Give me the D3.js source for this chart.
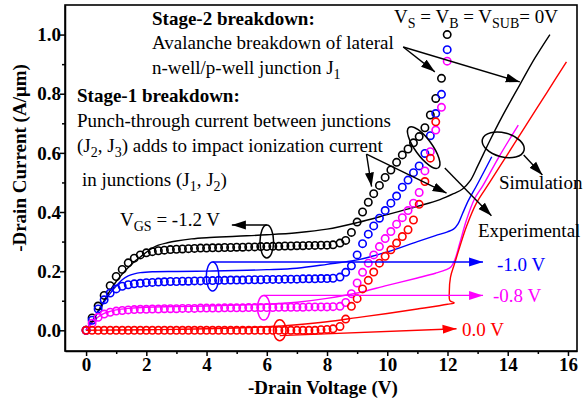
<!DOCTYPE html>
<html>
<head>
<meta charset="utf-8">
<script src="https://cdn.jsdelivr.net/npm/d3@7"></script>
<style>
  body { margin: 0; background: #fff; }
  svg { display: block; font-family: "Liberation Serif", "Times New Roman", serif; }
</style>
</head>
<body>
<svg id="chart" width="583" height="403"></svg>
<script>
// ---- axis ticks ----
const xTicks = [0, 2, 4, 6, 8, 10, 12, 14, 16];
const xTickLabels = ["0", "2", "4", "6", "8", "10", "12", "14", "16"];
const xMinorTicks = [1, 3, 5, 7, 9, 11, 13, 15];
const yTicks = [0.0, 0.2, 0.4, 0.6, 0.8, 1.0];
const yTickLabels = ["0.0", "0.2", "0.4", "0.6", "0.8", "1.0"];
const yMinorTicks = [0.1, 0.3, 0.5, 0.7, 0.9];

// ---- measured data: low-voltage sweep (shared drain voltages) ----
const measV = [0, 0.2, 0.4, 0.6, 0.8, 1.0, 1.2, 1.4, 1.6, 1.8, 2.0, 2.2, 2.4, 2.6, 2.8, 3.0, 3.2, 3.4, 3.6, 3.8,
  4.0, 4.2, 4.4, 4.6, 4.8, 5.0, 5.2, 5.4, 5.6, 5.8, 6.0, 6.2, 6.4, 6.6, 6.8, 7.0, 7.2, 7.4, 7.6, 7.8, 8.0, 8.2];
const measI_m12 = [0, 0.042, 0.082, 0.118, 0.151, 0.182, 0.206, 0.228, 0.244, 0.255, 0.262, 0.266, 0.269, 0.271, 0.273,
  0.274, 0.275, 0.276, 0.277, 0.278, 0.278, 0.279, 0.279, 0.280, 0.280, 0.281, 0.281, 0.282, 0.282, 0.283, 0.283,
  0.284, 0.284, 0.285, 0.285, 0.286, 0.286, 0.287, 0.287, 0.288, 0.288, 0.289];
const measI_m10 = [0, 0.034, 0.072, 0.103, 0.126, 0.140, 0.149, 0.154, 0.157, 0.159, 0.161, 0.162, 0.163, 0.164, 0.165,
  0.165, 0.166, 0.166, 0.167, 0.167, 0.168, 0.168, 0.169, 0.169, 0.170, 0.170, 0.170, 0.171, 0.171, 0.171, 0.172,
  0.172, 0.172, 0.173, 0.173, 0.173, 0.174, 0.174, 0.174, 0.175, 0.175, 0.176];
const measI_m08 = [0, 0.024, 0.044, 0.055, 0.061, 0.065, 0.067, 0.069, 0.070, 0.071, 0.071, 0.072, 0.072, 0.073, 0.073,
  0.073, 0.074, 0.074, 0.074, 0.075, 0.075, 0.075, 0.075, 0.076, 0.076, 0.076, 0.076, 0.077, 0.077, 0.077, 0.077,
  0.077, 0.078, 0.078, 0.078, 0.078, 0.078, 0.079, 0.079, 0.079, 0.079, 0.080];
const measI_00 = [0, 0, 0, 0, 0, 0, 0, 0, 0, 0, 0, 0, 0, 0, 0, 0, 0, 0, 0, 0, 0, 0, 0, 0, 0, 0, 0, 0, 0, 0, 0, 0, 0, 0, 0,
  0, 0, 0, 0, 0.002, 0.003, 0.005];

// ---- measured data: breakdown region ----
const bdV = [8.43, 8.62, 8.81, 9.0, 9.18, 9.37, 9.55, 9.74, 9.93, 10.12, 10.31, 10.5, 10.69, 10.87, 11.06, 11.25, 11.43,
  11.61, 11.8, 11.99];
const bdI_m12 = [0.295, 0.304, 0.331, 0.366, 0.400, 0.433, 0.462, 0.490, 0.517, 0.542, 0.568, 0.593, 0.613, 0.634, 0.655,
  0.685, 0.728, 0.784, 0.852, 1.0];
const bdI_m10 = [0.180, 0.196, 0.218, 0.255, 0.293, 0.325, 0.353, 0.379, 0.405, 0.430, 0.454, 0.484, 0.508, 0.533, 0.556,
  0.598, 0.658, 0.733, 0.798, 0.949];
const bdI_m08 = [0.081, 0.094, 0.124, 0.160, 0.196, 0.227, 0.255, 0.283, 0.310, 0.334, 0.359, 0.381, 0.405, 0.430, 0.466,
  0.539, 0.604, 0.677, 0.754, 0.910];
const bdI_00 = [0.013, 0.038, 0.081, 0.107, 0.140, 0.169, 0.197, 0.227, 0.250, 0.272, 0.295, 0.317, 0.340, 0.373, 0.426,
  0.503, 0.582, 0.705];

// ---- simulated curves ----
const simV_m12 = [0, 0.2, 0.4, 0.6, 0.8, 1.0, 1.2, 1.4, 1.6, 1.8, 2.0, 2.2, 2.4, 2.7, 3.0, 3.5, 4.0, 5.0, 6.0, 7.0,
  8.0, 9.0, 10.0, 11.0, 11.75, 12.2, 12.5, 12.75, 13.0, 13.4, 13.8, 14.4, 14.9, 15.4];
const simI_m12 = [0, 0.030, 0.065, 0.100, 0.135, 0.165, 0.190, 0.212, 0.232, 0.248, 0.264, 0.278, 0.288, 0.296, 0.302,
  0.309, 0.313, 0.318, 0.323, 0.330, 0.342, 0.364, 0.391, 0.419, 0.442, 0.462, 0.478, 0.505, 0.555, 0.640, 0.720,
  0.830, 0.920, 1.0];
const simV_m10 = [0, 0.2, 0.4, 0.6, 0.8, 1.0, 1.2, 1.4, 1.6, 1.8, 2.2, 3.0, 4.0, 5.0, 6.0, 7.0, 8.0, 9.0, 10.0, 11.0,
  11.6, 12.0, 12.2, 12.35, 12.5, 12.7, 12.96, 13.47];
const simI_m10 = [0, 0.030, 0.062, 0.095, 0.125, 0.150, 0.171, 0.184, 0.191, 0.195, 0.198, 0.199, 0.200, 0.202, 0.205,
  0.210, 0.223, 0.238, 0.265, 0.300, 0.320, 0.333, 0.342, 0.360, 0.395, 0.440, 0.488, 0.587];
const simV_m08 = [0, 0.2, 0.4, 0.6, 0.8, 1.0, 1.4, 2.0, 3.0, 4.0, 5.0, 6.0, 7.0, 8.0, 9.0, 10.0, 11.0, 11.6, 11.96,
  12.12, 12.25, 12.41, 12.63, 12.9, 13.18, 13.7, 14.35];
const simI_m08 = [0, 0.025, 0.045, 0.057, 0.064, 0.069, 0.074, 0.078, 0.080, 0.082, 0.085, 0.088, 0.095, 0.108, 0.126,
  0.152, 0.177, 0.193, 0.205, 0.215, 0.240, 0.295, 0.373, 0.445, 0.490, 0.585, 0.694];
const simV_00 = [0, 1, 2, 3, 4, 5, 6, 7, 8, 9, 10, 11, 12.0, 12.22, 12.08, 12.06, 12.1, 12.24, 12.41, 12.63, 12.96,
  13.4, 14.0, 14.6, 15.3, 15.95];
const simI_00 = [0, 0.001, 0.002, 0.003, 0.005, 0.008, 0.012, 0.019, 0.029, 0.043, 0.057, 0.072, 0.088, 0.093, 0.100,
  0.130, 0.180, 0.227, 0.283, 0.351, 0.430, 0.500, 0.596, 0.692, 0.804, 0.908];

const BLACK = "#000000", BLUE = "#0000ff", MAGENTA = "#ff00ff", RED = "#ff0000";

const svg = d3.select("#chart");
const FONT = 19;

const x = d3.scaleLinear().domain([-0.7, 16.3]).range([65, 577]);
const y = d3.scaleLinear().domain([-0.07, 1.1]).range([351, 5]);
const zip = (vs, is) => vs.map((v, i) => [v, is[i]]);

// ---- arrow heads ----
const defs = svg.append("defs");
[["k", BLACK], ["b", BLUE], ["m", MAGENTA], ["r", RED]].forEach(([id, c]) => {
  defs.append("marker").attr("id", "ah-" + id)
    .attr("viewBox", "0 -5 14 10").attr("refX", 14).attr("refY", 0)
    .attr("markerWidth", 14).attr("markerHeight", 10)
    .attr("markerUnits", "userSpaceOnUse").attr("orient", "auto")
    .append("path").attr("d", "M0,-4.5L14,0L0,4.5Z").attr("fill", c);
});

// ---- simulated curves ----
const line = d3.line().x(d => x(d[0])).y(d => y(d[1])).curve(d3.curveCatmullRom.alpha(0.5));
const sims = [
  [simV_m12, simI_m12, BLACK], [simV_m10, simI_m10, BLUE],
  [simV_m08, simI_m08, MAGENTA], [simV_00, simI_00, RED]
];
svg.append("g").selectAll("path").data(sims).join("path")
  .attr("d", d => line(zip(d[0], d[1])))
  .attr("fill", "none").attr("stroke", d => d[2]).attr("stroke-width", 1.4);

// ---- measured points ----
const meas = [
  [measV.concat(bdV), measI_m12.concat(bdI_m12), BLACK],
  [measV.concat(bdV), measI_m10.concat(bdI_m10), BLUE],
  [measV.concat(bdV), measI_m08.concat(bdI_m08), MAGENTA],
  [measV.concat(bdV.slice(0, bdI_00.length)), measI_00.concat(bdI_00), RED]
];
meas.forEach(([vs, is, c]) => {
  svg.append("g").selectAll("circle").data(zip(vs, is)).join("circle")
    .attr("cx", d => x(d[0])).attr("cy", d => y(d[1])).attr("r", 3.7)
    .attr("fill", "none").attr("stroke", c).attr("stroke-width", 1.6);
});

// ---- axes & frame ----
const xAxisG = svg.append("g").attr("transform", `translate(0,${y.range()[0]})`)
  .call(d3.axisBottom(x).tickValues(xTicks).tickFormat((d, i) => xTickLabels[i]).tickSize(5).tickSizeOuter(0));
svg.append("g").attr("transform", `translate(0,${y.range()[0]})`)
  .call(d3.axisBottom(x).tickValues(xMinorTicks).tickFormat("").tickSize(3).tickSizeOuter(0))
  .select(".domain").remove();
const yAxisG = svg.append("g").attr("transform", `translate(${x.range()[0]},0)`)
  .call(d3.axisLeft(y).tickValues(yTicks).tickFormat((d, i) => yTickLabels[i]).tickSize(5).tickSizeOuter(0));
svg.append("g").attr("transform", `translate(${x.range()[0]},0)`)
  .call(d3.axisLeft(y).tickValues(yMinorTicks).tickFormat("").tickSize(3).tickSizeOuter(0))
  .select(".domain").remove();

svg.selectAll(".tick line").attr("stroke-width", 1.5);
svg.selectAll(".domain").attr("stroke-width", 1.5);
xAxisG.selectAll("text").attr("y", 20).attr("dy", 0)
  .attr("font-size", FONT).attr("font-weight", "bold").attr("font-family", "Liberation Serif");
yAxisG.selectAll("text").attr("x", -4).attr("dy", "0.33em")
  .attr("font-size", FONT).attr("font-weight", "bold").attr("font-family", "Liberation Serif");

svg.append("rect").attr("x", x.range()[0]).attr("y", y.range()[1])
  .attr("width", x.range()[1] - x.range()[0]).attr("height", y.range()[0] - y.range()[1])
  .attr("fill", "none").attr("stroke", BLACK).attr("stroke-width", 1.6);

// axis titles
svg.append("text").attr("x", 323).attr("y", 394).attr("text-anchor", "middle")
  .attr("font-size", FONT).attr("font-weight", "bold").text("-Drain Voltage (V)");
svg.append("text").attr("transform", "translate(26,158) rotate(-90)").attr("text-anchor", "middle")
  .attr("font-size", FONT).attr("font-weight", "bold").text("-Drain Current (A/\u03bcm)");

// ---- annotation helpers ----
function label(px, py, parts, opts = {}) {
  const t = svg.append("text").attr("x", px).attr("y", py).attr("font-size", FONT)
    .attr("fill", opts.color || BLACK).attr("font-weight", opts.bold ? "bold" : null);
  let shifted = false;
  parts.forEach(p => {
    const sub = Array.isArray(p);
    const s = t.append("tspan").text(sub ? p[0] : p);
    if (sub && !shifted) { s.attr("dy", 5).attr("font-size", 14); shifted = true; }
    else if (sub) { s.attr("font-size", 14); }
    else if (shifted) { s.attr("dy", -5); shifted = false; }
  });
  return t;
}
function arrow(v0, i0, v1, i1, color, id) {
  svg.append("line").attr("x1", x(v0)).attr("y1", y(i0)).attr("x2", x(v1)).attr("y2", y(i1))
    .attr("stroke", color).attr("stroke-width", 1.4).attr("marker-end", `url(#ah-${id})`);
}
function ring(v, i, rx, ry, color, rot = 0) {
  svg.append("ellipse").attr("cx", 0).attr("cy", 0).attr("rx", rx).attr("ry", ry)
    .attr("transform", `translate(${x(v)},${y(i)}) rotate(${rot})`)
    .attr("fill", "none").attr("stroke", color).attr("stroke-width", 1.5);
}

// stage annotations
label(152, 25, ["Stage-2 breakdown:"], { bold: true });
label(152, 49, ["Avalanche breakdown of lateral"]);
label(152, 74, ["n-well/p-well junction J", ["1"]]);
label(77, 102, ["Stage-1 breakdown:"], { bold: true });
label(77, 127, ["Punch-through current between junctions"]);
label(77, 152, ["(J", ["2"], ", J", ["3"], ") adds to impact ionization current"]);
label(82, 186, ["in junctions (J", ["1"], ", J", ["2"], ")"]);
label(394, 23, ["V", ["S"], " = V", ["B"], " = V", ["SUB"], "= 0V"]);

arrow(10.53, 0.958, 11.58, 0.874, BLACK, "k");
arrow(10.53, 0.958, 14.4, 0.84, BLACK, "k");
arrow(9.31, 0.596, 9.48, 0.486, BLACK, "k");
arrow(9.31, 0.596, 11.97, 0.464, BLACK, "k");

// gate-voltage call-outs
ring(6.0, 0.30, 6.8, 16.5, BLACK);
arrow(6.0, 0.356, 4.84, 0.356, BLACK, "k");
label(120, 226, ["V", ["GS"], " = -1.2 V"]);

ring(4.2, 0.182, 6.3, 14.5, BLUE);
arrow(4.2, 0.231, 13.18, 0.231, BLUE, "b");
label(497, 271, ["-1.0 V"], { color: BLUE });

ring(5.9, 0.076, 6.3, 12.3, MAGENTA);
arrow(5.9, 0.118, 13.18, 0.118, MAGENTA, "m");
label(493, 302, ["-0.8 V"], { color: MAGENTA });

ring(6.43, 0.0, 6.3, 10.5, RED);
arrow(6.43, -0.018, 12.3, 0.005, RED, "r");
label(462, 336, ["0.0 V"], { color: RED });

// measured / simulated call-outs
ring(11.21, 0.618, 25, 8.5, BLACK, 54);
arrow(11.91, 0.549, 13.46, 0.387, BLACK, "k");
label(478, 237, ["Experimental"]);

ring(13.85, 0.627, 21.5, 12, BLACK, 15);
arrow(14.53, 0.593, 15.15, 0.525, BLACK, "k");
label(499, 189, ["Simulation"]);
</script>
</body>
</html>
